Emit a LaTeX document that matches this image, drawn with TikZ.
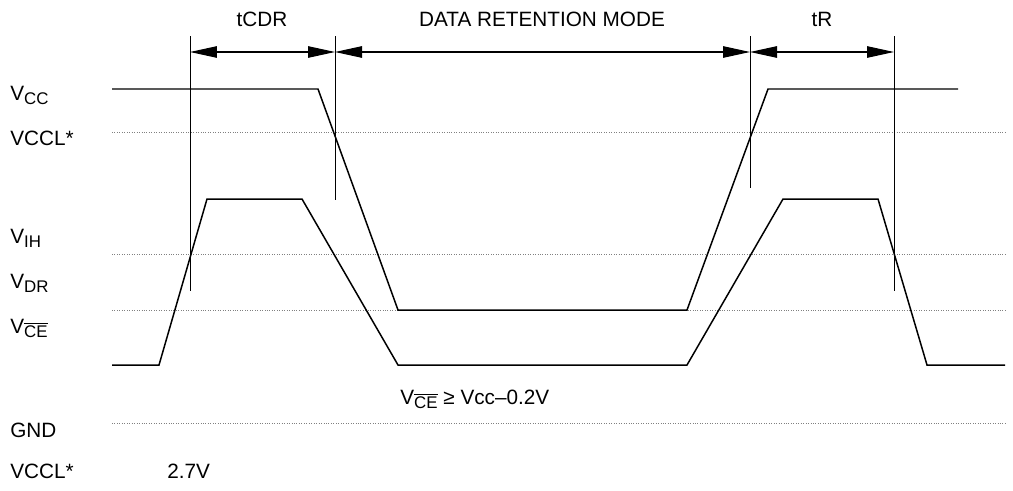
\documentclass[tikz,border=0pt]{standalone}
\usepackage{fontspec}
\setmainfont{Liberation Sans}
\usetikzlibrary{arrows.meta}
\newcommand{\lowtxt}[1]{\raisebox{-.4ex}{\fontsize{9.6}{11}\selectfont #1}}
\begin{document}
\begin{tikzpicture}[x=0.02cm,y=-0.02cm,font=\fontsize{11.8}{14}\selectfont,
    lbl/.style={anchor=base west,inner sep=0pt},
    ttl/.style={anchor=base,inner sep=0pt},
    wave/.style={line width=0.85pt,line join=miter},
    level/.style={gray,densely dotted,line width=0.4pt},
    mark line/.style={line width=0.5pt},
    span/.style={line width=0.6pt,{Triangle[length=5.4mm,width=2.3mm]}-{Triangle[length=5.4mm,width=2.3mm]}}]
                \useasboundingbox (0,0) rectangle (1013,490);
                % level names
                \node[lbl] at (10,100) (vcc) {V\lowtxt{CC}};
                \node[lbl] at (10,145) (vccl) {VCCL*};
                \node[lbl] at (10,243) (vih) {V\lowtxt{IH}};
                \node[lbl] at (10,288) (vdr) {V\lowtxt{DR}};
                \node[lbl] at (10,333) (vce) {V\lowtxt{$\overline{\mbox{CE}}$}};
                \node[lbl] at (10,437) (gnd) {GND};
                \node[lbl] at (10,478) (vccl2) {VCCL*};
                \node[lbl] at (167,478) (volt) {2.7V};
                \node[lbl] at (400,404) (cond) {V\lowtxt{$\overline{\mbox{CE}}$} ≥ Vcc–0.2V};

                % dotted levels
                \draw[level] (112,132) -- (1005,132);
                \draw[level] (112,254) -- (1005,254);
                \draw[level] (112,310) -- (1005,310);
                \draw[level] (112,423) -- (1005,423);

                % timing marks
                \coordinate (m1) at (190,52);
                \coordinate (m2) at (335,52);
                \coordinate (m3) at (750,52);
                \coordinate (m4) at (894,52);
                \draw[mark line] (190,36) -- (190,291);
                \draw[mark line] (335,36) -- (335,200);
                \draw[mark line] (750,36) -- (750,188);
                \draw[mark line] (894,36) -- (894,291);
                \draw[span] (m1) -- (m2);
                \draw[span] (m2) -- (m3);
                \draw[span] (m3) -- (m4);
                \node[ttl] at (262,27) (tcdr) {tCDR};
                \node[ttl] at (542,27) (drm) {DATA RETENTION MODE};
                \node[ttl] at (822,27) (tr) {tR};

                % supply
                \draw[wave] (112,89) -- (318,89) -- (398,310) -- (687,310) -- (768,89) -- (958,89);
                % chip enable
                \draw[wave] (112,365) -- (159,365) -- (207,199) -- (302,199) -- (398,365)
                    -- (687,365) -- (783,199) -- (878,199) -- (927,365) -- (1005,365);
            \end{tikzpicture}
\end{document}
